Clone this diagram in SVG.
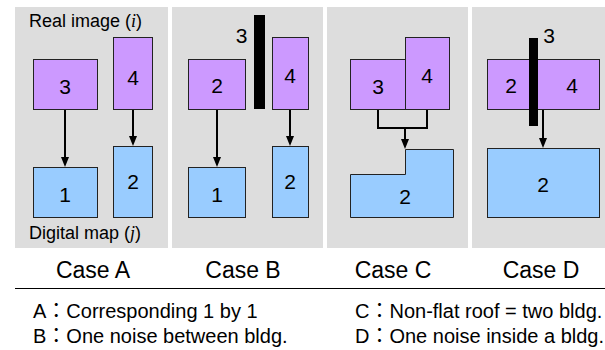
<svg xmlns="http://www.w3.org/2000/svg" width="605" height="350" viewBox="0 0 605 350">
  <style>
    .panel { fill: #DDDDDD; }
    .img { fill: #CC99FF; stroke: #222222; stroke-width: 1; }
    .map { fill: #99CCFF; stroke: #222222; stroke-width: 1; }
    .noise { fill: #000000; }
    .num { font-family: "Liberation Sans", Arial, sans-serif; font-size: 21px; fill: #000; text-anchor: middle; }
    .lbl { font-family: "Liberation Sans", Arial, sans-serif; font-size: 18px; fill: #000; }
    .case { font-family: "Liberation Sans", Arial, sans-serif; font-size: 23px; fill: #000; text-anchor: middle; }
    .leg { font-family: "Liberation Sans", "Noto Sans CJK JP", Arial, sans-serif; font-size: 20px; fill: #000; }
    .it { font-family: "Liberation Serif", "Times New Roman", serif; font-style: italic; }
    .conn { fill: none; stroke: #000; stroke-width: 2; }
  </style>
  <defs>
    <marker id="ah" viewBox="0 0 10 8" refX="7" refY="4" markerWidth="10" markerHeight="8" markerUnits="userSpaceOnUse" orient="auto">
      <path d="M0,0 L10,4 L0,8 Z" fill="#000"/>
    </marker>
  </defs>

  <g id="panels">
    <rect class="panel" x="15" y="7" width="153" height="241"/>
    <rect class="panel" x="172" y="7" width="151" height="241"/>
    <rect class="panel" x="327" y="7" width="141" height="241"/>
    <rect class="panel" x="472" y="7" width="133" height="241"/>
  </g>

  <g id="panel-labels">
    <text class="lbl" x="29" y="27">Real image (<tspan class="it">i</tspan>)</text>
    <text class="lbl" x="29" y="239">Digital map (<tspan class="it">j</tspan>)</text>
  </g>

  <!-- Case A -->
  <g id="A-img3"><rect class="img" x="33.5" y="59.5" width="64" height="50"/><text class="num" x="65" y="94">3</text></g>
  <g id="A-img4"><rect class="img" x="113.5" y="37.5" width="39" height="72"/><text class="num" x="133" y="85">4</text></g>
  <g id="A-map1"><rect class="map" x="33.5" y="167.5" width="64" height="50"/><text class="num" x="65" y="202">1</text></g>
  <g id="A-map2"><rect class="map" x="113.5" y="146.5" width="39" height="71"/><text class="num" x="133" y="189">2</text></g>

  <!-- Case B -->
  <g id="B-noise3"><rect class="noise" x="254" y="15" width="11" height="94"/><text class="num" x="241.5" y="43">3</text></g>
  <g id="B-img2"><rect class="img" x="188.5" y="59.5" width="57" height="50"/><text class="num" x="217" y="93">2</text></g>
  <g id="B-img4"><rect class="img" x="272.5" y="37.5" width="36" height="72"/><text class="num" x="290" y="83">4</text></g>
  <g id="B-map1"><rect class="map" x="188.5" y="167.5" width="57" height="50"/><text class="num" x="217" y="202">1</text></g>
  <g id="B-map2"><rect class="map" x="272.5" y="146.5" width="36" height="71"/><text class="num" x="290" y="189">2</text></g>

  <!-- Case C -->
  <g id="C-img3"><rect class="img" x="350.5" y="59.5" width="55" height="50"/><text class="num" x="378" y="94">3</text></g>
  <g id="C-img4"><rect class="img" x="405.5" y="37.5" width="44" height="72"/><text class="num" x="427" y="83">4</text></g>
  <g id="C-map2"><path class="map" d="M405.5,149.5 H453.5 V217.5 H350.5 V174.5 H405.5 Z"/><text class="num" x="405" y="204">2</text></g>

  <!-- Case D -->
  <g id="D-img24"><rect class="img" x="487.5" y="59.5" width="112" height="50"/><text class="num" x="511" y="93">2</text><text class="num" x="572" y="93">4</text></g>
  <g id="D-noise3"><rect class="noise" x="529" y="38" width="9" height="88"/><text class="num" x="549" y="43">3</text></g>
  <g id="D-map2"><rect class="map" x="487.5" y="148.5" width="112" height="69"/><text class="num" x="543" y="192">2</text></g>

  <g id="connectors">
    <line class="conn" x1="65" y1="110" x2="65" y2="164" marker-end="url(#ah)"/>
    <line class="conn" x1="133" y1="110" x2="133" y2="143" marker-end="url(#ah)"/>
    <line class="conn" x1="217" y1="110" x2="217" y2="164" marker-end="url(#ah)"/>
    <line class="conn" x1="290" y1="110" x2="290" y2="143" marker-end="url(#ah)"/>
    <path class="conn" d="M378,110 V128 H427 V110"/>
    <line class="conn" x1="405" y1="128" x2="405" y2="146" marker-end="url(#ah)"/>
    <line class="conn" x1="543" y1="110" x2="543" y2="145" marker-end="url(#ah)"/>
  </g>

  <g id="captions">
    <text class="case" x="93" y="278">Case A</text>
    <text class="case" x="243" y="278">Case B</text>
    <text class="case" x="393" y="278">Case C</text>
    <text class="case" x="541" y="278">Case D</text>
    <line x1="15" y1="288.5" x2="605" y2="288.5" stroke="#000" stroke-width="1.2"/>
    <text class="leg" x="33" y="318">A：Corresponding 1 by 1</text>
    <text class="leg" x="33" y="343">B：One noise between bldg.</text>
    <text class="leg" x="355" y="318">C：Non-flat roof = two bldg.</text>
    <text class="leg" x="355" y="343">D：One noise inside a bldg.</text>
  </g>
</svg>
